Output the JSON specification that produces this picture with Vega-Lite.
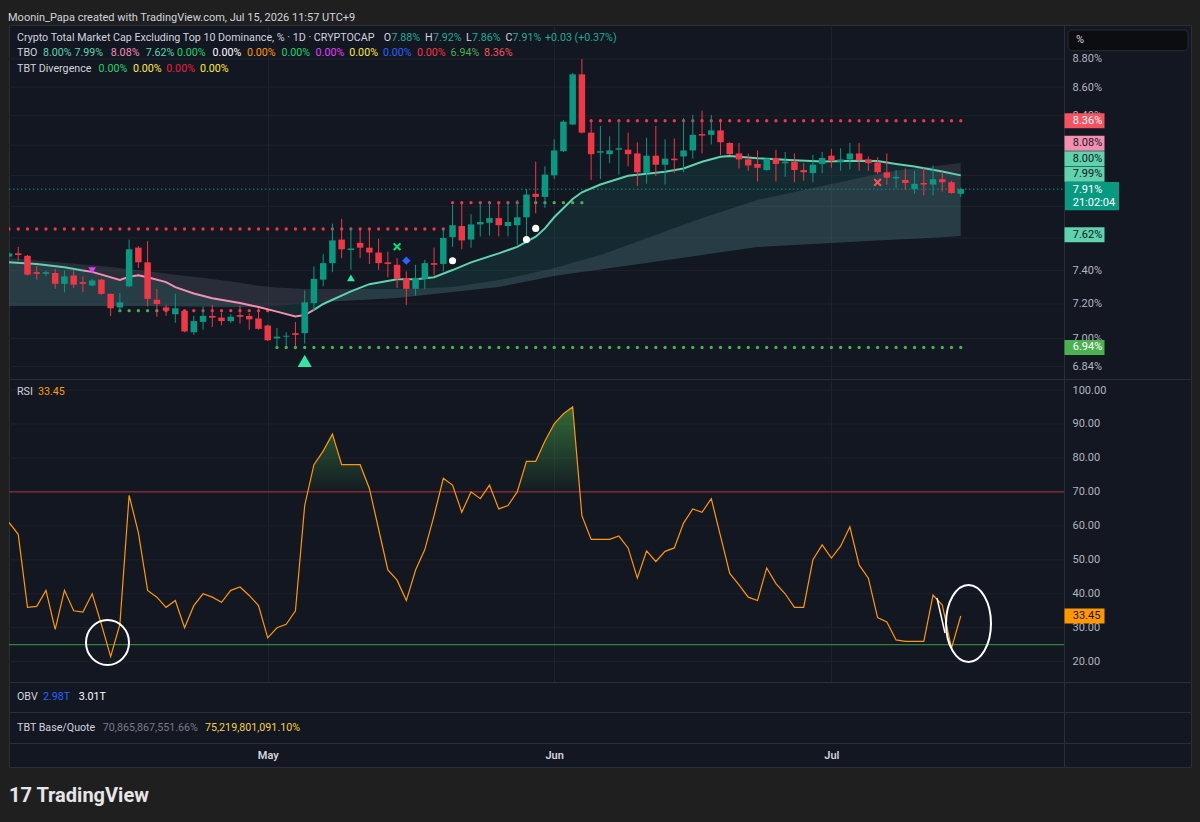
{
"$schema":"https://vega.github.io/schema/vega-lite/v6.json",
"background":"#1f1f1f",
"padding":{"left":8,"right":10,"top":11,"bottom":17},
"spacing":0,
"bounds":"flush",
"title":{"text":"Moonin_Papa created with TradingView.com, Jul 15, 2026 11:57 UTC+9","anchor":"start","font":"Roboto","fontSize":11,"fontWeight":"normal","color":"#d1d4dc","offset":2},
"config":{
 "view":{"fill":"#131722","stroke":"#2a2e39","strokeWidth":1},
 "text":{"font":"Roboto","fontSize":10.7,"align":"left","baseline":"middle"},
 "axis":{"labelFont":"Roboto","labelFontSize":11,"labelColor":"#b2b5be","domainColor":"#2a2e39","gridColor":"#1e222d"}
},
"datasets":{
"days":[
{"t":"2026-04-03","o":7.485,"h":7.51,"l":7.48,"c":7.505,"rsi":61,"u":7.656,"us":"bear"},
{"t":"2026-04-04","o":7.505,"h":7.545,"l":7.46,"c":7.495,"rsi":57.5,"u":7.656,"us":"bear"},
{"t":"2026-04-05","o":7.49,"h":7.495,"l":7.37,"c":7.375,"rsi":36,"u":7.656,"us":"bear"},
{"t":"2026-04-06","o":7.39,"h":7.43,"l":7.345,"c":7.38,"rsi":36.3,"u":7.656,"us":"bear"},
{"t":"2026-04-07","o":7.38,"h":7.4,"l":7.365,"c":7.39,"rsi":41,"u":7.656,"us":"bear"},
{"t":"2026-04-08","o":7.385,"h":7.41,"l":7.29,"c":7.32,"rsi":29.5,"u":7.656,"us":"bear"},
{"t":"2026-04-09","o":7.32,"h":7.4,"l":7.27,"c":7.365,"rsi":41,"u":7.656,"us":"bear"},
{"t":"2026-04-10","o":7.37,"h":7.4,"l":7.295,"c":7.315,"rsi":35,"u":7.656,"us":"bear"},
{"t":"2026-04-11","o":7.33,"h":7.365,"l":7.27,"c":7.32,"rsi":34.6,"u":7.656,"us":"bear"},
{"t":"2026-04-12","o":7.31,"h":7.35,"l":7.305,"c":7.34,"rsi":40,"u":7.656,"us":"bear"},
{"t":"2026-04-13","o":7.345,"h":7.35,"l":7.255,"c":7.26,"rsi":31,"u":7.656,"us":"bear"},
{"t":"2026-04-14","o":7.26,"h":7.262,"l":7.13,"c":7.175,"rsi":21.5,"u":7.656,"us":"bear"},
{"t":"2026-04-15","o":7.18,"h":7.265,"l":7.16,"c":7.21,"rsi":31,"u":7.656,"us":"bear","d":7.161,"ds":"bull"},
{"t":"2026-04-16","o":7.305,"h":7.59,"l":7.3,"c":7.53,"rsi":69,"u":7.656,"us":"bear","d":7.161,"ds":"bull"},
{"t":"2026-04-17","o":7.54,"h":7.55,"l":7.415,"c":7.45,"rsi":58,"u":7.656,"us":"bear","d":7.161,"ds":"bull"},
{"t":"2026-04-18","o":7.45,"h":7.58,"l":7.185,"c":7.23,"rsi":41,"u":7.656,"us":"bear","d":7.161,"ds":"bull"},
{"t":"2026-04-19","o":7.225,"h":7.29,"l":7.125,"c":7.2,"rsi":39,"u":7.656,"us":"bear","d":7.161,"ds":"bull"},
{"t":"2026-04-20","o":7.18,"h":7.195,"l":7.13,"c":7.16,"rsi":36,"u":7.656,"us":"bear","d":7.161,"ds":"bear"},
{"t":"2026-04-21","o":7.14,"h":7.26,"l":7.09,"c":7.175,"rsi":38,"u":7.656,"us":"bear","d":7.161,"ds":"bear"},
{"t":"2026-04-22","o":7.16,"h":7.165,"l":7.035,"c":7.04,"rsi":30,"u":7.656,"us":"bear","d":7.161,"ds":"bear"},
{"t":"2026-04-23","o":7.035,"h":7.13,"l":7.02,"c":7.1,"rsi":36.5,"u":7.656,"us":"bear","d":7.161,"ds":"bear"},
{"t":"2026-04-24","o":7.095,"h":7.185,"l":7.05,"c":7.13,"rsi":40,"u":7.656,"us":"bear","d":7.161,"ds":"bear"},
{"t":"2026-04-25","o":7.13,"h":7.195,"l":7.065,"c":7.12,"rsi":39,"u":7.656,"us":"bear","d":7.161,"ds":"bear"},
{"t":"2026-04-26","o":7.12,"h":7.15,"l":7.075,"c":7.1,"rsi":37.5,"u":7.656,"us":"bear","d":7.161,"ds":"bear"},
{"t":"2026-04-27","o":7.1,"h":7.14,"l":7.09,"c":7.125,"rsi":41,"u":7.656,"us":"bear","d":7.161,"ds":"bear"},
{"t":"2026-04-28","o":7.135,"h":7.19,"l":7.085,"c":7.125,"rsi":42,"u":7.656,"us":"bear","d":7.161,"ds":"bear"},
{"t":"2026-04-29","o":7.13,"h":7.145,"l":7.05,"c":7.11,"rsi":39.5,"u":7.656,"us":"bear","d":7.161,"ds":"bear"},
{"t":"2026-04-30","o":7.115,"h":7.175,"l":7.05,"c":7.055,"rsi":36.5,"u":7.656,"us":"bear","d":7.161,"ds":"bear"},
{"t":"2026-05-01","o":7.075,"h":7.08,"l":6.985,"c":6.99,"rsi":27,"u":7.656,"us":"bear","d":7.161,"ds":"bear"},
{"t":"2026-05-02","o":7.0,"h":7.06,"l":6.95,"c":7.01,"rsi":30,"u":7.656,"us":"bear","d":6.948,"ds":"bull"},
{"t":"2026-05-03","o":7.01,"h":7.035,"l":6.955,"c":7.015,"rsi":31,"u":7.656,"us":"bear","d":6.948,"ds":"bull"},
{"t":"2026-05-04","o":7.03,"h":7.095,"l":6.955,"c":7.02,"rsi":35,"u":7.656,"us":"bear","d":6.948,"ds":"bull"},
{"t":"2026-05-05","o":7.03,"h":7.28,"l":6.97,"c":7.21,"rsi":66,"u":7.656,"us":"bear","d":6.948,"ds":"bull"},
{"t":"2026-05-06","o":7.205,"h":7.425,"l":7.16,"c":7.35,"rsi":78,"u":7.656,"us":"bear","d":6.948,"ds":"bull"},
{"t":"2026-05-07","o":7.345,"h":7.5,"l":7.305,"c":7.445,"rsi":82,"u":7.656,"us":"bear","d":6.948,"ds":"bull"},
{"t":"2026-05-08","o":7.445,"h":7.69,"l":7.39,"c":7.585,"rsi":87,"u":7.656,"us":"bear","d":6.948,"ds":"bull"},
{"t":"2026-05-09","o":7.59,"h":7.72,"l":7.475,"c":7.53,"rsi":78,"u":7.656,"us":"bear","d":6.948,"ds":"bull"},
{"t":"2026-05-10","o":7.525,"h":7.665,"l":7.405,"c":7.535,"rsi":78,"u":7.656,"us":"bear","d":6.948,"ds":"bull"},
{"t":"2026-05-11","o":7.57,"h":7.66,"l":7.475,"c":7.54,"rsi":78,"u":7.656,"us":"bear","d":6.948,"ds":"bull"},
{"t":"2026-05-12","o":7.54,"h":7.65,"l":7.44,"c":7.51,"rsi":71,"u":7.656,"us":"bear","d":6.948,"ds":"bull"},
{"t":"2026-05-13","o":7.51,"h":7.595,"l":7.405,"c":7.445,"rsi":59,"u":7.656,"us":"bear","d":6.948,"ds":"bull"},
{"t":"2026-05-14","o":7.45,"h":7.515,"l":7.36,"c":7.44,"rsi":47,"u":7.656,"us":"bear","d":6.948,"ds":"bull"},
{"t":"2026-05-15","o":7.435,"h":7.475,"l":7.295,"c":7.35,"rsi":44,"u":7.656,"us":"bear","d":6.948,"ds":"bull"},
{"t":"2026-05-16","o":7.355,"h":7.395,"l":7.195,"c":7.29,"rsi":38,"u":7.656,"us":"bear","d":6.948,"ds":"bull"},
{"t":"2026-05-17","o":7.29,"h":7.435,"l":7.25,"c":7.355,"rsi":47,"u":7.656,"us":"bear","d":6.948,"ds":"bull"},
{"t":"2026-05-18","o":7.35,"h":7.465,"l":7.29,"c":7.445,"rsi":53,"u":7.656,"us":"bear","d":6.948,"ds":"bull"},
{"t":"2026-05-19","o":7.445,"h":7.54,"l":7.37,"c":7.435,"rsi":63,"u":7.656,"us":"bear","d":6.948,"ds":"bull"},
{"t":"2026-05-20","o":7.44,"h":7.655,"l":7.395,"c":7.6,"rsi":74,"u":7.656,"us":"bear","d":6.948,"ds":"bull"},
{"t":"2026-05-21","o":7.605,"h":7.81,"l":7.545,"c":7.68,"rsi":72,"u":7.823,"us":"bear","d":6.948,"ds":"bull"},
{"t":"2026-05-22","o":7.675,"h":7.82,"l":7.53,"c":7.585,"rsi":64,"u":7.823,"us":"bear","d":6.948,"ds":"bull"},
{"t":"2026-05-23","o":7.59,"h":7.75,"l":7.54,"c":7.685,"rsi":70,"u":7.823,"us":"bear","d":6.948,"ds":"bull"},
{"t":"2026-05-24","o":7.685,"h":7.82,"l":7.61,"c":7.7,"rsi":68,"u":7.823,"us":"bear","d":6.948,"ds":"bull"},
{"t":"2026-05-25","o":7.695,"h":7.825,"l":7.615,"c":7.725,"rsi":72,"u":7.823,"us":"bear","d":6.948,"ds":"bull"},
{"t":"2026-05-26","o":7.725,"h":7.83,"l":7.61,"c":7.68,"rsi":65,"u":7.823,"us":"bear","d":6.948,"ds":"bull"},
{"t":"2026-05-27","o":7.675,"h":7.83,"l":7.61,"c":7.7,"rsi":66,"u":7.823,"us":"bear","d":6.948,"ds":"bull"},
{"t":"2026-05-28","o":7.68,"h":7.84,"l":7.555,"c":7.73,"rsi":70,"u":7.823,"us":"bear","d":6.948,"ds":"bull"},
{"t":"2026-05-29","o":7.73,"h":7.91,"l":7.585,"c":7.875,"rsi":79,"u":7.823,"us":"bear","d":6.948,"ds":"bull"},
{"t":"2026-05-30","o":7.88,"h":8.09,"l":7.755,"c":7.86,"rsi":79,"u":7.823,"us":"bull","d":6.948,"ds":"bull"},
{"t":"2026-05-31","o":7.86,"h":8.06,"l":7.79,"c":8.005,"rsi":85,"u":7.823,"us":"bull","d":6.948,"ds":"bull"},
{"t":"2026-06-01","o":8.0,"h":8.24,"l":7.975,"c":8.165,"rsi":90,"u":7.823,"us":"bull","d":6.948,"ds":"bull"},
{"t":"2026-06-02","o":8.16,"h":8.37,"l":8.155,"c":8.36,"rsi":93,"u":7.823,"us":"bull","d":6.948,"ds":"bull"},
{"t":"2026-06-03","o":8.34,"h":8.7,"l":8.335,"c":8.69,"rsi":95,"u":7.823,"us":"bull","d":6.948,"ds":"bull"},
{"t":"2026-06-04","o":8.69,"h":8.8,"l":8.28,"c":8.285,"rsi":63,"u":7.823,"us":"bull","d":6.948,"ds":"bull"},
{"t":"2026-06-05","o":8.285,"h":8.36,"l":7.97,"c":8.14,"rsi":56,"u":8.366,"us":"bear","d":6.948,"ds":"bull"},
{"t":"2026-06-06","o":8.15,"h":8.33,"l":7.975,"c":8.16,"rsi":56,"u":8.366,"us":"bear","d":6.948,"ds":"bull"},
{"t":"2026-06-07","o":8.14,"h":8.26,"l":8.08,"c":8.165,"rsi":56,"u":8.366,"us":"bear","d":6.948,"ds":"bull"},
{"t":"2026-06-08","o":8.17,"h":8.355,"l":8.005,"c":8.18,"rsi":57,"u":8.366,"us":"bear","d":6.948,"ds":"bull"},
{"t":"2026-06-09","o":8.17,"h":8.285,"l":8.06,"c":8.14,"rsi":53.5,"u":8.366,"us":"bear","d":6.948,"ds":"bull"},
{"t":"2026-06-10","o":8.145,"h":8.22,"l":7.93,"c":8.02,"rsi":44.6,"u":8.366,"us":"bear","d":6.948,"ds":"bull"},
{"t":"2026-06-11","o":8.015,"h":8.25,"l":7.945,"c":8.13,"rsi":52.6,"u":8.366,"us":"bear","d":6.948,"ds":"bull"},
{"t":"2026-06-12","o":8.13,"h":8.33,"l":7.995,"c":8.07,"rsi":49.5,"u":8.366,"us":"bear","d":6.948,"ds":"bull"},
{"t":"2026-06-13","o":8.07,"h":8.24,"l":7.94,"c":8.11,"rsi":52.5,"u":8.366,"us":"bear","d":6.948,"ds":"bull"},
{"t":"2026-06-14","o":8.11,"h":8.245,"l":8.015,"c":8.1,"rsi":53.5,"u":8.366,"us":"bear","d":6.948,"ds":"bull"},
{"t":"2026-06-15","o":8.125,"h":8.385,"l":8.02,"c":8.165,"rsi":60.8,"u":8.366,"us":"bear","d":6.948,"ds":"bull"},
{"t":"2026-06-16","o":8.165,"h":8.405,"l":8.11,"c":8.27,"rsi":65,"u":8.366,"us":"bear","d":6.948,"ds":"bull"},
{"t":"2026-06-17","o":8.275,"h":8.435,"l":8.145,"c":8.265,"rsi":64,"u":8.366,"us":"bear","d":6.948,"ds":"bull"},
{"t":"2026-06-18","o":8.27,"h":8.405,"l":8.205,"c":8.3,"rsi":68,"u":8.366,"us":"bear","d":6.948,"ds":"bull"},
{"t":"2026-06-19","o":8.3,"h":8.38,"l":8.135,"c":8.22,"rsi":57,"u":8.366,"us":"bear","d":6.948,"ds":"bull"},
{"t":"2026-06-20","o":8.215,"h":8.22,"l":8.135,"c":8.14,"rsi":46,"u":8.366,"us":"bear","d":6.948,"ds":"bull"},
{"t":"2026-06-21","o":8.145,"h":8.215,"l":8.045,"c":8.105,"rsi":42.6,"u":8.366,"us":"bear","d":6.948,"ds":"bull"},
{"t":"2026-06-22","o":8.105,"h":8.145,"l":8.03,"c":8.065,"rsi":39,"u":8.366,"us":"bear","d":6.948,"ds":"bull"},
{"t":"2026-06-23","o":8.075,"h":8.165,"l":7.96,"c":8.05,"rsi":38,"u":8.366,"us":"bear","d":6.948,"ds":"bull"},
{"t":"2026-06-24","o":8.035,"h":8.115,"l":8.03,"c":8.11,"rsi":47.6,"u":8.366,"us":"bear","d":6.948,"ds":"bull"},
{"t":"2026-06-25","o":8.115,"h":8.17,"l":7.96,"c":8.075,"rsi":43,"u":8.366,"us":"bear","d":6.948,"ds":"bull"},
{"t":"2026-06-26","o":8.08,"h":8.155,"l":7.99,"c":8.09,"rsi":40,"u":8.366,"us":"bear","d":6.948,"ds":"bull"},
{"t":"2026-06-27","o":8.09,"h":8.145,"l":7.955,"c":8.035,"rsi":36,"u":8.366,"us":"bear","d":6.948,"ds":"bull"},
{"t":"2026-06-28","o":8.035,"h":8.08,"l":7.965,"c":8.02,"rsi":36,"u":8.366,"us":"bear","d":6.948,"ds":"bull"},
{"t":"2026-06-29","o":8.015,"h":8.135,"l":7.955,"c":8.07,"rsi":50,"u":8.366,"us":"bear","d":6.948,"ds":"bull"},
{"t":"2026-06-30","o":8.075,"h":8.155,"l":8.015,"c":8.115,"rsi":54.4,"u":8.366,"us":"bear","d":6.948,"ds":"bull"},
{"t":"2026-07-01","o":8.13,"h":8.175,"l":8.05,"c":8.095,"rsi":50.5,"u":8.366,"us":"bear","d":6.948,"ds":"bull"},
{"t":"2026-07-02","o":8.09,"h":8.18,"l":8.03,"c":8.105,"rsi":54,"u":8.366,"us":"bear","d":6.948,"ds":"bull"},
{"t":"2026-07-03","o":8.105,"h":8.215,"l":8.04,"c":8.145,"rsi":59.7,"u":8.366,"us":"bear","d":6.948,"ds":"bull"},
{"t":"2026-07-04","o":8.145,"h":8.215,"l":8.03,"c":8.1,"rsi":48.5,"u":8.366,"us":"bear","d":6.948,"ds":"bull"},
{"t":"2026-07-05","o":8.105,"h":8.125,"l":8.03,"c":8.08,"rsi":44.6,"u":8.366,"us":"bear","d":6.948,"ds":"bull"},
{"t":"2026-07-06","o":8.085,"h":8.12,"l":8.01,"c":8.02,"rsi":33,"u":8.366,"us":"bear","d":6.948,"ds":"bull"},
{"t":"2026-07-07","o":8.02,"h":8.145,"l":7.94,"c":7.985,"rsi":31.7,"u":8.366,"us":"bear","d":6.948,"ds":"bull"},
{"t":"2026-07-08","o":7.98,"h":8.035,"l":7.915,"c":7.99,"rsi":26.4,"u":8.366,"us":"bear","d":6.948,"ds":"bull"},
{"t":"2026-07-09","o":7.97,"h":8.045,"l":7.905,"c":7.95,"rsi":26,"u":8.366,"us":"bear","d":6.948,"ds":"bull"},
{"t":"2026-07-10","o":7.91,"h":8.03,"l":7.88,"c":7.945,"rsi":26,"u":8.366,"us":"bear","d":6.948,"ds":"bull"},
{"t":"2026-07-11","o":7.95,"h":8.05,"l":7.87,"c":7.94,"rsi":26,"u":8.366,"us":"bear","d":6.948,"ds":"bull"},
{"t":"2026-07-12","o":7.94,"h":8.065,"l":7.87,"c":7.975,"rsi":39.6,"u":8.366,"us":"bear","d":6.948,"ds":"bull"},
{"t":"2026-07-13","o":7.975,"h":8.025,"l":7.895,"c":7.955,"rsi":36.7,"u":8.366,"us":"bear","d":6.948,"ds":"bull"},
{"t":"2026-07-14","o":7.955,"h":7.965,"l":7.88,"c":7.885,"rsi":24,"u":8.366,"us":"bear","d":6.948,"ds":"bull"},
{"t":"2026-07-15","o":7.88,"h":7.92,"l":7.86,"c":7.91,"rsi":33.45,"u":8.366,"us":"bear","d":6.948,"ds":"bull"}
],
"ma":[
{"t":"2026-04-03","f":7.45,"s1":7.476,"s2":7.188,"tr":"bull","seg":"a"},
{"t":"2026-04-06","f":7.44,"s1":7.462,"s2":7.188,"tr":"bull","seg":"a"},
{"t":"2026-04-09","f":7.42,"s1":7.447,"s2":7.188,"tr":"bull","seg":"a"},
{"t":"2026-04-11","f":7.4,"s1":7.437,"s2":7.188,"tr":"bull","seg":"a"},
{"t":"2026-04-11","f":7.4,"s1":7.437,"s2":7.188,"tr":"bear","seg":"b"},
{"t":"2026-04-12","f":7.392,"s1":7.433,"s2":7.188,"tr":"bear","seg":"b"},
{"t":"2026-04-15","f":7.343,"s1":7.415,"s2":7.188,"tr":"bear","seg":"b"},
{"t":"2026-04-16","f":7.362,"s1":7.408,"s2":7.188,"tr":"bear","seg":"b"},
{"t":"2026-04-17","f":7.372,"s1":7.402,"s2":7.188,"tr":"bear","seg":"b"},
{"t":"2026-04-18","f":7.36,"s1":7.395,"s2":7.188,"tr":"bear","seg":"b"},
{"t":"2026-04-20","f":7.33,"s1":7.382,"s2":7.187,"tr":"bear","seg":"b"},
{"t":"2026-04-21","f":7.3,"s1":7.375,"s2":7.186,"tr":"bear","seg":"b"},
{"t":"2026-04-23","f":7.262,"s1":7.362,"s2":7.185,"tr":"bear","seg":"b"},
{"t":"2026-04-25","f":7.234,"s1":7.349,"s2":7.184,"tr":"bear","seg":"b"},
{"t":"2026-04-28","f":7.206,"s1":7.326,"s2":7.182,"tr":"bear","seg":"b"},
{"t":"2026-04-30","f":7.182,"s1":7.309,"s2":7.181,"tr":"bear","seg":"b"},
{"t":"2026-05-02","f":7.155,"s1":7.298,"s2":7.186,"tr":"bear","seg":"b"},
{"t":"2026-05-04","f":7.127,"s1":7.292,"s2":7.199,"tr":"bear","seg":"b"},
{"t":"2026-05-05","f":7.135,"s1":7.289,"s2":7.206,"tr":"bear","seg":"b"},
{"t":"2026-05-06","f":7.165,"s1":7.289,"s2":7.209,"tr":"bear","seg":"b"},
{"t":"2026-05-06","f":7.165,"s1":7.289,"s2":7.209,"tr":"bull","seg":"c"},
{"t":"2026-05-07","f":7.2,"s1":7.289,"s2":7.212,"tr":"bull","seg":"c"},
{"t":"2026-05-10","f":7.275,"s1":7.289,"s2":7.221,"tr":"bull","seg":"c"},
{"t":"2026-05-12","f":7.318,"s1":7.289,"s2":7.227,"tr":"bull","seg":"c"},
{"t":"2026-05-15","f":7.347,"s1":7.289,"s2":7.236,"tr":"bull","seg":"c"},
{"t":"2026-05-17","f":7.347,"s1":7.292,"s2":7.247,"tr":"bull","seg":"c"},
{"t":"2026-05-19","f":7.36,"s1":7.297,"s2":7.259,"tr":"bull","seg":"c"},
{"t":"2026-05-21","f":7.403,"s1":7.301,"s2":7.271,"tr":"bull","seg":"c"},
{"t":"2026-05-23","f":7.45,"s1":7.318,"s2":7.283,"tr":"bull","seg":"c"},
{"t":"2026-05-26","f":7.505,"s1":7.343,"s2":7.301,"tr":"bull","seg":"c"},
{"t":"2026-05-28","f":7.545,"s1":7.365,"s2":7.323,"tr":"bull","seg":"c"},
{"t":"2026-05-30","f":7.608,"s1":7.389,"s2":7.345,"tr":"bull","seg":"c"},
{"t":"2026-05-31","f":7.66,"s1":7.402,"s2":7.356,"tr":"bull","seg":"c"},
{"t":"2026-06-01","f":7.73,"s1":7.416,"s2":7.367,"tr":"bull","seg":"c"},
{"t":"2026-06-03","f":7.847,"s1":7.447,"s2":7.383,"tr":"bull","seg":"c"},
{"t":"2026-06-04","f":7.89,"s1":7.463,"s2":7.391,"tr":"bull","seg":"c"},
{"t":"2026-06-06","f":7.94,"s1":7.495,"s2":7.407,"tr":"bull","seg":"c"},
{"t":"2026-06-09","f":7.997,"s1":7.557,"s2":7.43,"tr":"bull","seg":"c"},
{"t":"2026-06-11","f":8.01,"s1":7.598,"s2":7.446,"tr":"bull","seg":"c"},
{"t":"2026-06-13","f":8.024,"s1":7.64,"s2":7.462,"tr":"bull","seg":"c"},
{"t":"2026-06-15","f":8.045,"s1":7.683,"s2":7.478,"tr":"bull","seg":"c"},
{"t":"2026-06-17","f":8.09,"s1":7.726,"s2":7.495,"tr":"bull","seg":"c"},
{"t":"2026-06-19","f":8.123,"s1":7.764,"s2":7.511,"tr":"bull","seg":"c"},
{"t":"2026-06-20","f":8.128,"s1":7.783,"s2":7.519,"tr":"bull","seg":"c"},
{"t":"2026-06-23","f":8.113,"s1":7.84,"s2":7.544,"tr":"bull","seg":"c"},
{"t":"2026-06-27","f":8.1,"s1":7.892,"s2":7.557,"tr":"bull","seg":"c"},
{"t":"2026-06-30","f":8.092,"s1":7.931,"s2":7.566,"tr":"bull","seg":"c"},
{"t":"2026-07-04","f":8.096,"s1":7.983,"s2":7.578,"tr":"bull","seg":"c"},
{"t":"2026-07-06","f":8.094,"s1":8.009,"s2":7.584,"tr":"bull","seg":"c"},
{"t":"2026-07-08","f":8.075,"s1":8.03,"s2":7.59,"tr":"bull","seg":"c"},
{"t":"2026-07-10","f":8.058,"s1":8.045,"s2":7.596,"tr":"bull","seg":"c"},
{"t":"2026-07-13","f":8.025,"s1":8.067,"s2":7.605,"tr":"bull","seg":"c"},
{"t":"2026-07-15","f":8.0,"s1":8.082,"s2":7.613,"tr":"bull","seg":"c"}
],
"marks":[
{"t":"2026-04-12","p":7.40,"k":"tdn"},
{"t":"2026-05-05","p":6.872,"k":"tbig"},
{"t":"2026-05-10","p":7.356,"k":"tsm"},
{"t":"2026-05-15","p":7.546,"k":"xg"},
{"t":"2026-05-16","p":7.46,"k":"dia"},
{"t":"2026-05-21","p":7.46,"k":"wht"},
{"t":"2026-05-29","p":7.59,"k":"wht"},
{"t":"2026-05-30","p":7.66,"k":"wht"},
{"t":"2026-07-06","p":7.954,"k":"xr"}
],
"tags":[
{"lab":"8.36%","at":8.366,"k":"res"},
{"lab":"8.08%","at":8.213,"k":"pink"},
{"lab":"8.00%","at":8.109,"k":"mint"},
{"lab":"7.99%","at":8.008,"k":"mint"},
{"lab":"7.62%","at":7.62,"k":"mint"},
{"lab":"6.94%","at":6.948,"k":"sup"}
]
},
"vconcat":[
{
"width":1182,"height":354,
"resolve":{"axis":{"x":"independent","y":"independent"}},
"layer":[
{"data":{"values":[{"p":6.84},{"p":7.0},{"p":7.2},{"p":7.4},{"p":7.6},{"p":7.8},{"p":8.0},{"p":8.2},{"p":8.4},{"p":8.6},{"p":8.8}]},
 "mark":{"type":"rule","color":"#1e222d"},
 "encoding":{"x":{"datum":1775174400000,"type":"temporal","axis":null},"x2":{"datum":1785038907000},"y":{"field":"p","type":"quantitative","axis":null}}},
{"data":{"name":"ma"},"mark":{"type":"area","color":"#9aa4b5","opacity":0.16,"clip":true},"encoding":{"x":{"field":"t","type":"temporal","axis":null},"y":{"field":"s1","type":"quantitative","axis":null},"y2":{"field":"s2"}}},
{"data":{"name":"ma"},"mark":{"type":"area","color":"#26a69a","opacity":0.13,"clip":true},"encoding":{"x":{"field":"t","type":"temporal","axis":null},"y":{"field":"f","type":"quantitative","axis":null},"y2":{"field":"s2"}}},
{"data":{"values":[{}]},"mark":{"type":"rule","color":"#089981","strokeDash":[1.5,2.5]},"encoding":{"x":{"datum":1775174400000,"type":"temporal","axis":null},"x2":{"datum":1785038907000},"y":{"datum":7.91,"type":"quantitative","axis":null}}},
{"data":{"name":"days"},"transform":[{"filter":"isValid(datum.u)"}],"mark":{"type":"circle","size":11,"opacity":1,"clip":true},"encoding":{"x":{"field":"t","type":"temporal","axis":null},"y":{"field":"u","type":"quantitative","axis":null},"color":{"condition":{"test":"datum.us=='bull'","value":"#4caf50"},"value":"#f23645"}}},
{"data":{"name":"days"},"transform":[{"filter":"isValid(datum.d)"}],"mark":{"type":"circle","size":11,"opacity":1,"clip":true},"encoding":{"x":{"field":"t","type":"temporal","axis":null},"y":{"field":"d","type":"quantitative","axis":null},"color":{"condition":{"test":"datum.ds=='bull'","value":"#4caf50"},"value":"#f23645"}}},
{"data":{"name":"ma"},"mark":{"type":"line","strokeWidth":2,"clip":true},"encoding":{"x":{"field":"t","type":"temporal","axis":null},"y":{"field":"f","type":"quantitative","axis":null},"detail":{"field":"seg"},"color":{"condition":{"test":"datum.tr=='bear'","value":"#f48fb1"},"value":"#5fd3ad"}}},
{"data":{"name":"days"},"mark":{"type":"rule","strokeWidth":1,"clip":true},"encoding":{
  "x":{"field":"t","type":"temporal","scale":{"type":"utc","domain":[1775174400000,1786226400000],"padding":0},"axis":{"values":[1777593600000,1780272000000,1782864000000],"grid":true,"gridColor":"#1e222d","labels":false,"ticks":false,"domain":false,"title":null}},
  "y":{"field":"l","type":"quantitative","scale":{"type":"log","domain":[6.771,9.0485],"nice":false},"axis":{"orient":"right","offset":-127,"values":[6.84,7,7.2,7.4,8.4,8.6,8.8],"labelExpr":"format(datum.value,'.2f')+'%'","labelPadding":8,"ticks":false,"grid":false,"domain":true,"labelOverlap":false,"labelBaseline":"middle","title":null}},
  "y2":{"field":"h"},"color":{"condition":{"test":"datum.c>=datum.o","value":"#089981"},"value":"#f23645"}}},
{"data":{"name":"days"},"mark":{"type":"bar","width":6.5,"clip":true},"encoding":{"x":{"field":"t","type":"temporal","axis":null},"y":{"field":"o","type":"quantitative","axis":null},"y2":{"field":"c"},"color":{"condition":{"test":"datum.c>=datum.o","value":"#089981"},"value":"#f23645"}}},
{"data":{"name":"marks"},"transform":[{"filter":"datum.k=='tdn'"}],"mark":{"type":"point","shape":"triangle-down","size":55,"filled":true,"opacity":1,"color":"#e040fb"},"encoding":{"x":{"field":"t","type":"temporal","axis":null},"y":{"field":"p","type":"quantitative","axis":null}}},
{"data":{"name":"marks"},"transform":[{"filter":"datum.k=='tbig'"}],"mark":{"type":"point","shape":"triangle-up","size":200,"filled":true,"opacity":1,"color":"#2ee6a6"},"encoding":{"x":{"field":"t","type":"temporal","axis":null},"y":{"field":"p","type":"quantitative","axis":null}}},
{"data":{"name":"marks"},"transform":[{"filter":"datum.k=='tsm'"}],"mark":{"type":"point","shape":"triangle-up","size":60,"filled":true,"opacity":1,"color":"#2ee6a6"},"encoding":{"x":{"field":"t","type":"temporal","axis":null},"y":{"field":"p","type":"quantitative","axis":null}}},
{"data":{"name":"marks"},"transform":[{"filter":"datum.k=='dia'"}],"mark":{"type":"point","shape":"diamond","size":70,"filled":true,"opacity":1,"color":"#2962ff"},"encoding":{"x":{"field":"t","type":"temporal","axis":null},"y":{"field":"p","type":"quantitative","axis":null}}},
{"data":{"name":"marks"},"transform":[{"filter":"datum.k=='wht'"}],"mark":{"type":"point","shape":"circle","size":50,"filled":true,"opacity":1,"color":"#ffffff"},"encoding":{"x":{"field":"t","type":"temporal","axis":null},"y":{"field":"p","type":"quantitative","axis":null}}},
{"data":{"name":"marks"},"transform":[{"filter":"datum.k=='xg'"}],"mark":{"type":"point","shape":"M-1,-1L1,1M1,-1L-1,1","size":45,"filled":false,"opacity":1,"strokeWidth":2,"color":"#00e676"},"encoding":{"x":{"field":"t","type":"temporal","axis":null},"y":{"field":"p","type":"quantitative","axis":null}}},
{"data":{"name":"marks"},"transform":[{"filter":"datum.k=='xr'"}],"mark":{"type":"point","shape":"M-1,-1L1,1M1,-1L-1,1","size":45,"filled":false,"opacity":1,"strokeWidth":2,"color":"#ff5252"},"encoding":{"x":{"field":"t","type":"temporal","axis":null},"y":{"field":"p","type":"quantitative","axis":null}}},
{"data":{"name":"tags"},"mark":{"type":"point","shape":"M-1,-0.375L1,-0.375L1,0.375L-1,0.375Z","size":1600,"filled":true,"opacity":1},"encoding":{"x":{"datum":1785230587000,"type":"temporal","axis":null},"y":{"field":"at","type":"quantitative","axis":null},"color":{"condition":[{"test":"datum.k=='res'","value":"#f7525f"},{"test":"datum.k=='pink'","value":"#f48fb1"},{"test":"datum.k=='sup'","value":"#4caf50"}],"value":"#5fd3ad"}}},
{"data":{"name":"tags"},"mark":{"type":"text","fontSize":11},"encoding":{"x":{"datum":1785120255000,"type":"temporal","axis":null},"y":{"field":"at","type":"quantitative","axis":null},"text":{"field":"lab"},"color":{"condition":{"test":"datum.k=='res'||datum.k=='sup'","value":"#ffffff"},"value":"#131722"}}},
{"data":{"values":[{}]},"mark":{"type":"point","shape":"M-1,-0.52L1,-0.52L1,0.52L-1,0.52Z","size":2916,"filled":true,"opacity":1,"color":"#089981"},"encoding":{"x":{"datum":1785300714000,"type":"temporal","axis":null},"y":{"datum":7.865,"type":"quantitative","axis":null}}},
{"data":{"values":[{}]},"mark":{"type":"text","text":"7.91%","color":"#ffffff","fontSize":11},"encoding":{"x":{"datum":1785120255000,"type":"temporal","axis":null},"y":{"datum":7.905,"type":"quantitative","axis":null}}},
{"data":{"values":[{}]},"mark":{"type":"text","text":"21:02:04","color":"#ffffff","fontSize":11},"encoding":{"x":{"datum":1785120255000,"type":"temporal","axis":null},"y":{"datum":7.819,"type":"quantitative","axis":null}}},
{"data":{"values":[{}]},"mark":{"type":"rect","fill":"#0c0d10","stroke":"#2a2e39","cornerRadius":4},"encoding":{"x":{"datum":1785076308000,"type":"temporal","axis":null},"x2":{"datum":1786199338000},"y":{"datum":9.0116,"type":"quantitative","axis":null},"y2":{"datum":8.86}}},
{"data":{"values":[{}]},"mark":{"type":"text","text":"%","color":"#d1d4dc","fontSize":11},"encoding":{"x":{"datum":1785151110000,"type":"temporal","axis":null},"y":{"datum":8.938,"type":"quantitative","axis":null}}},
{"data":{"values":[{}]},"mark":{"type":"text","text":"Crypto Total Market Cap Excluding Top 10 Dominance, % · 1D · CRYPTOCAP","color":"#d1d4dc"},"encoding":{"x":{"datum":1775249202000,"type":"temporal","axis":null},"y":{"datum":8.955,"type":"quantitative","axis":null}}},
{"data":{"values":[{}]},"mark":{"type":"text","text":"O","color":"#d1d4dc"},"encoding":{"x":{"datum":1778677936000,"type":"temporal","axis":null},"y":{"datum":8.955,"type":"quantitative","axis":null}}},
{"data":{"values":[{}]},"mark":{"type":"text","text":"7.88%","color":"#22ab94"},"encoding":{"x":{"datum":1778750868000,"type":"temporal","axis":null},"y":{"datum":8.955,"type":"quantitative","axis":null}}},
{"data":{"values":[{}]},"mark":{"type":"text","text":"H","color":"#d1d4dc"},"encoding":{"x":{"datum":1779064102000,"type":"temporal","axis":null},"y":{"datum":8.955,"type":"quantitative","axis":null}}},
{"data":{"values":[{}]},"mark":{"type":"text","text":"7.92%","color":"#22ab94"},"encoding":{"x":{"datum":1779138903000,"type":"temporal","axis":null},"y":{"datum":8.955,"type":"quantitative","axis":null}}},
{"data":{"values":[{}]},"mark":{"type":"text","text":"L","color":"#d1d4dc"},"encoding":{"x":{"datum":1779447462000,"type":"temporal","axis":null},"y":{"datum":8.955,"type":"quantitative","axis":null}}},
{"data":{"values":[{}]},"mark":{"type":"text","text":"7.86%","color":"#22ab94"},"encoding":{"x":{"datum":1779503563000,"type":"temporal","axis":null},"y":{"datum":8.955,"type":"quantitative","axis":null}}},
{"data":{"values":[{}]},"mark":{"type":"text","text":"C","color":"#d1d4dc"},"encoding":{"x":{"datum":1779815861000,"type":"temporal","axis":null},"y":{"datum":8.955,"type":"quantitative","axis":null}}},
{"data":{"values":[{}]},"mark":{"type":"text","text":"7.91%","color":"#22ab94"},"encoding":{"x":{"datum":1779883183000,"type":"temporal","axis":null},"y":{"datum":8.955,"type":"quantitative","axis":null}}},
{"data":{"values":[{}]},"mark":{"type":"text","text":"+0.03 (+0.37%)","color":"#22ab94"},"encoding":{"x":{"datum":1780186131000,"type":"temporal","axis":null},"y":{"datum":8.955,"type":"quantitative","axis":null}}},
{"data":{"values":[{}]},"mark":{"type":"text","text":"TBO","color":"#d1d4dc"},"encoding":{"x":{"datum":1775249202000,"type":"temporal","axis":null},"y":{"datum":8.845,"type":"quantitative","axis":null}}},
{"data":{"values":[{}]},"mark":{"type":"text","text":"8.00%","color":"#5fd3ad"},"encoding":{"x":{"datum":1775492308000,"type":"temporal","axis":null},"y":{"datum":8.845,"type":"quantitative","axis":null}}},
{"data":{"values":[{}]},"mark":{"type":"text","text":"7.99%","color":"#5fd3ad"},"encoding":{"x":{"datum":1775786841000,"type":"temporal","axis":null},"y":{"datum":8.845,"type":"quantitative","axis":null}}},
{"data":{"values":[{}]},"mark":{"type":"text","text":"8.08%","color":"#f48fb1"},"encoding":{"x":{"datum":1776126255000,"type":"temporal","axis":null},"y":{"datum":8.845,"type":"quantitative","axis":null}}},
{"data":{"values":[{}]},"mark":{"type":"text","text":"7.62%","color":"#5fd3ad"},"encoding":{"x":{"datum":1776452578000,"type":"temporal","axis":null},"y":{"datum":8.845,"type":"quantitative","axis":null}}},
{"data":{"values":[{}]},"mark":{"type":"text","text":"0.00%","color":"#22d36b"},"encoding":{"x":{"datum":1776745241000,"type":"temporal","axis":null},"y":{"datum":8.845,"type":"quantitative","axis":null}}},
{"data":{"values":[{}]},"mark":{"type":"text","text":"0.00%","color":"#ffffff"},"encoding":{"x":{"datum":1777078110000,"type":"temporal","axis":null},"y":{"datum":8.845,"type":"quantitative","axis":null}}},
{"data":{"values":[{}]},"mark":{"type":"text","text":"0.00%","color":"#ff9800"},"encoding":{"x":{"datum":1777399758000,"type":"temporal","axis":null},"y":{"datum":8.845,"type":"quantitative","axis":null}}},
{"data":{"values":[{}]},"mark":{"type":"text","text":"0.00%","color":"#22d36b"},"encoding":{"x":{"datum":1777722341000,"type":"temporal","axis":null},"y":{"datum":8.845,"type":"quantitative","axis":null}}},
{"data":{"values":[{}]},"mark":{"type":"text","text":"0.00%","color":"#e040fb"},"encoding":{"x":{"datum":1778041185000,"type":"temporal","axis":null},"y":{"datum":8.845,"type":"quantitative","axis":null}}},
{"data":{"values":[{}]},"mark":{"type":"text","text":"0.00%","color":"#ffeb3b"},"encoding":{"x":{"datum":1778356288000,"type":"temporal","axis":null},"y":{"datum":8.845,"type":"quantitative","axis":null}}},
{"data":{"values":[{}]},"mark":{"type":"text","text":"0.00%","color":"#2962ff"},"encoding":{"x":{"datum":1778671391000,"type":"temporal","axis":null},"y":{"datum":8.845,"type":"quantitative","axis":null}}},
{"data":{"values":[{}]},"mark":{"type":"text","text":"0.00%","color":"#f23645"},"encoding":{"x":{"datum":1778989300000,"type":"temporal","axis":null},"y":{"datum":8.845,"type":"quantitative","axis":null}}},
{"data":{"values":[{}]},"mark":{"type":"text","text":"6.94%","color":"#4caf50"},"encoding":{"x":{"datum":1779303403000,"type":"temporal","axis":null},"y":{"datum":8.845,"type":"quantitative","axis":null}}},
{"data":{"values":[{}]},"mark":{"type":"text","text":"8.36%","color":"#ff5252"},"encoding":{"x":{"datum":1779615766000,"type":"temporal","axis":null},"y":{"datum":8.845,"type":"quantitative","axis":null}}},
{"data":{"values":[{}]},"mark":{"type":"text","text":"TBT Divergence","color":"#d1d4dc"},"encoding":{"x":{"datum":1775249202000,"type":"temporal","axis":null},"y":{"datum":8.728,"type":"quantitative","axis":null}}},
{"data":{"values":[{}]},"mark":{"type":"text","text":"0.00%","color":"#22d36b"},"encoding":{"x":{"datum":1776012182000,"type":"temporal","axis":null},"y":{"datum":8.728,"type":"quantitative","axis":null}}},
{"data":{"values":[{}]},"mark":{"type":"text","text":"0.00%","color":"#ffeb3b"},"encoding":{"x":{"datum":1776333830000,"type":"temporal","axis":null},"y":{"datum":8.728,"type":"quantitative","axis":null}}},
{"data":{"values":[{}]},"mark":{"type":"text","text":"0.00%","color":"#e91e3c"},"encoding":{"x":{"datum":1776645193000,"type":"temporal","axis":null},"y":{"datum":8.728,"type":"quantitative","axis":null}}},
{"data":{"values":[{}]},"mark":{"type":"text","text":"0.00%","color":"#ffeb3b"},"encoding":{"x":{"datum":1776960297000,"type":"temporal","axis":null},"y":{"datum":8.728,"type":"quantitative","axis":null}}}
]
},
{
"width":1182,"height":303,
"resolve":{"axis":{"x":"independent","y":"independent"}},
"layer":[
{"data":{"values":[{"v":20},{"v":30},{"v":40},{"v":50},{"v":60},{"v":70},{"v":80},{"v":90},{"v":100}]},
 "mark":{"type":"rule","color":"#1e222d"},
 "encoding":{"x":{"datum":1775174400000,"type":"temporal","axis":null},"x2":{"datum":1785038907000},"y":{"field":"v","type":"quantitative","axis":null}}},
{"data":{"name":"days"},"mark":{"type":"area","line":false,"clip":true,"color":{"gradient":"linear","x1":0,"y1":0,"x2":0,"y2":1,"stops":[{"offset":0,"color":"rgba(67,160,71,0.6)"},{"offset":0.339,"color":"rgba(67,160,71,0.03)"},{"offset":0.3395,"color":"rgba(67,160,71,0)"},{"offset":1,"color":"rgba(67,160,71,0)"}]}},"encoding":{"x":{"field":"t","type":"temporal","axis":null},"y":{"field":"rsi","type":"quantitative","axis":null},"y2":{"datum":70}}},
{"data":{"values":[{}]},"mark":{"type":"rule","color":"#b2303b"},"encoding":{"x":{"datum":1775174400000,"type":"temporal","axis":null},"x2":{"datum":1785038907000},"y":{"datum":70,"type":"quantitative","axis":null}}},
{"data":{"values":[{}]},"mark":{"type":"rule","color":"#3f9b46"},"encoding":{"x":{"datum":1775174400000,"type":"temporal","axis":null},"x2":{"datum":1785038907000},"y":{"datum":25,"type":"quantitative","axis":null}}},
{"data":{"name":"days"},"mark":{"type":"line","color":"#ff9800","strokeWidth":1.2,"clip":true},"encoding":{
  "x":{"field":"t","type":"temporal","scale":{"type":"utc","domain":[1775174400000,1786226400000],"padding":0},"axis":{"values":[1777593600000,1780272000000,1782864000000],"grid":true,"gridColor":"#1e222d","labels":false,"ticks":false,"domain":false,"title":null}},
  "y":{"field":"rsi","type":"quantitative","scale":{"domain":[14.02,103.24],"nice":false,"zero":false},"axis":{"orient":"right","offset":-127,"values":[20,30,40,50,60,70,80,90,100],"format":".2f","labelPadding":8,"ticks":false,"grid":false,"domain":true,"labelOverlap":false,"labelBaseline":"middle","title":null}}}},
{"data":{"values":[{}]},"mark":{"type":"point","shape":"M-0.955,0A0.955,1 0 1,0 0.955,0A0.955,1 0 1,0 -0.955,0Z","size":2025,"filled":false,"opacity":1,"color":"#ffffff","strokeWidth":2},"encoding":{"x":{"datum":1776095399000,"type":"temporal","axis":null},"y":{"datum":25.65,"type":"quantitative","axis":null}}},
{"data":{"values":[{}]},"mark":{"type":"point","shape":"M-0.584,0A0.584,1 0 1,0 0.584,0A0.584,1 0 1,0 -0.584,0Z","size":5929,"filled":false,"opacity":1,"color":"#ffffff","strokeWidth":2},"encoding":{"x":{"datum":1784145959000,"type":"temporal","axis":null},"y":{"datum":31.24,"type":"quantitative","axis":null}}},
{"data":{"values":[{}]},"mark":{"type":"rule","color":"#ffffff","strokeWidth":1.5},"encoding":{"x":{"datum":1783851426000,"type":"temporal","axis":null},"x2":{"datum":1783926228000},"y":{"datum":38.75,"type":"quantitative","axis":null},"y2":{"datum":28.45}}},
{"data":{"values":[{}]},"mark":{"type":"point","shape":"M-1,-0.375L1,-0.375L1,0.375L-1,0.375Z","size":1600,"filled":true,"opacity":1,"color":"#ff9800"},"encoding":{"x":{"datum":1785230587000,"type":"temporal","axis":null},"y":{"datum":33.45,"type":"quantitative","axis":null}}},
{"data":{"values":[{}]},"mark":{"type":"text","text":"33.45","color":"#131722","fontSize":11},"encoding":{"x":{"datum":1785120255000,"type":"temporal","axis":null},"y":{"datum":33.45,"type":"quantitative","axis":null}}},
{"data":{"values":[{}]},"mark":{"type":"text","text":"RSI","color":"#d1d4dc"},"encoding":{"x":{"datum":1775249202000,"type":"temporal","axis":null},"y":{"datum":99.4,"type":"quantitative","axis":null}}},
{"data":{"values":[{}]},"mark":{"type":"text","text":"33.45","color":"#ff9800"},"encoding":{"x":{"datum":1775445557000,"type":"temporal","axis":null},"y":{"datum":99.4,"type":"quantitative","axis":null}}}
]
},
{
"width":1182,"height":30,
"layer":[
{"data":{"values":[{}]},"mark":{"type":"text","text":"OBV","color":"#d1d4dc"},"encoding":{"x":{"datum":1775249202000,"type":"temporal","scale":{"type":"utc","domain":[1775174400000,1786226400000]},"axis":null},"y":{"datum":0.5,"type":"quantitative","scale":{"domain":[0,1]},"axis":{"orient":"right","offset":-127,"labels":false,"ticks":false,"grid":false,"domain":true,"title":null}}}},
{"data":{"values":[{}]},"mark":{"type":"text","text":"2.98T","color":"#2962ff"},"encoding":{"x":{"datum":1775492308000,"type":"temporal","axis":null},"y":{"datum":0.5,"type":"quantitative"}}},
{"data":{"values":[{}]},"mark":{"type":"text","text":"3.01T","color":"#ffffff"},"encoding":{"x":{"datum":1775826112000,"type":"temporal","axis":null},"y":{"datum":0.5,"type":"quantitative"}}}
]
},
{
"width":1182,"height":31,
"layer":[
{"data":{"values":[{}]},"mark":{"type":"text","text":"TBT Base/Quote","color":"#d1d4dc"},"encoding":{"x":{"datum":1775249202000,"type":"temporal","scale":{"type":"utc","domain":[1775174400000,1786226400000]},"axis":null},"y":{"datum":0.5,"type":"quantitative","scale":{"domain":[0,1]},"axis":{"orient":"right","offset":-127,"labels":false,"ticks":false,"grid":false,"domain":true,"title":null}}}},
{"data":{"values":[{}]},"mark":{"type":"text","text":"70,865,867,551.66%","color":"#787b86"},"encoding":{"x":{"datum":1776051453000,"type":"temporal","axis":null},"y":{"datum":0.5,"type":"quantitative"}}},
{"data":{"values":[{}]},"mark":{"type":"text","text":"75,219,801,091.10%","color":"#f5d142"},"encoding":{"x":{"datum":1777007048000,"type":"temporal","axis":null},"y":{"datum":0.5,"type":"quantitative"}}}
]
},
{
"width":1182,"height":24,
"title":{"text":"17 TradingView","orient":"bottom","anchor":"start","font":"Roboto","fontSize":20,"fontWeight":"bold","color":"#e6e6e6","offset":19},
"data":{"values":[{}]},
"mark":{"type":"text","text":""},
"encoding":{
 "x":{"datum":1775249202000,"type":"temporal","scale":{"type":"utc","domain":[1775174400000,1786226400000]},"axis":{"orient":"bottom","values":[1777593600000,1780272000000,1782864000000],"labelExpr":"utcFormat(datum.value,'%b')","labelPadding":-12,"tickSize":0,"ticks":false,"domain":false,"grid":false,"labelBaseline":"middle","labelColor":"#d1d4dc","labelFontWeight":600,"labelFlush":false,"title":null}},
 "y":{"datum":0.5,"type":"quantitative","scale":{"domain":[0,1]},"axis":{"orient":"right","offset":-127,"labels":false,"ticks":false,"grid":false,"domain":true,"title":null}}
}
}
]
}
